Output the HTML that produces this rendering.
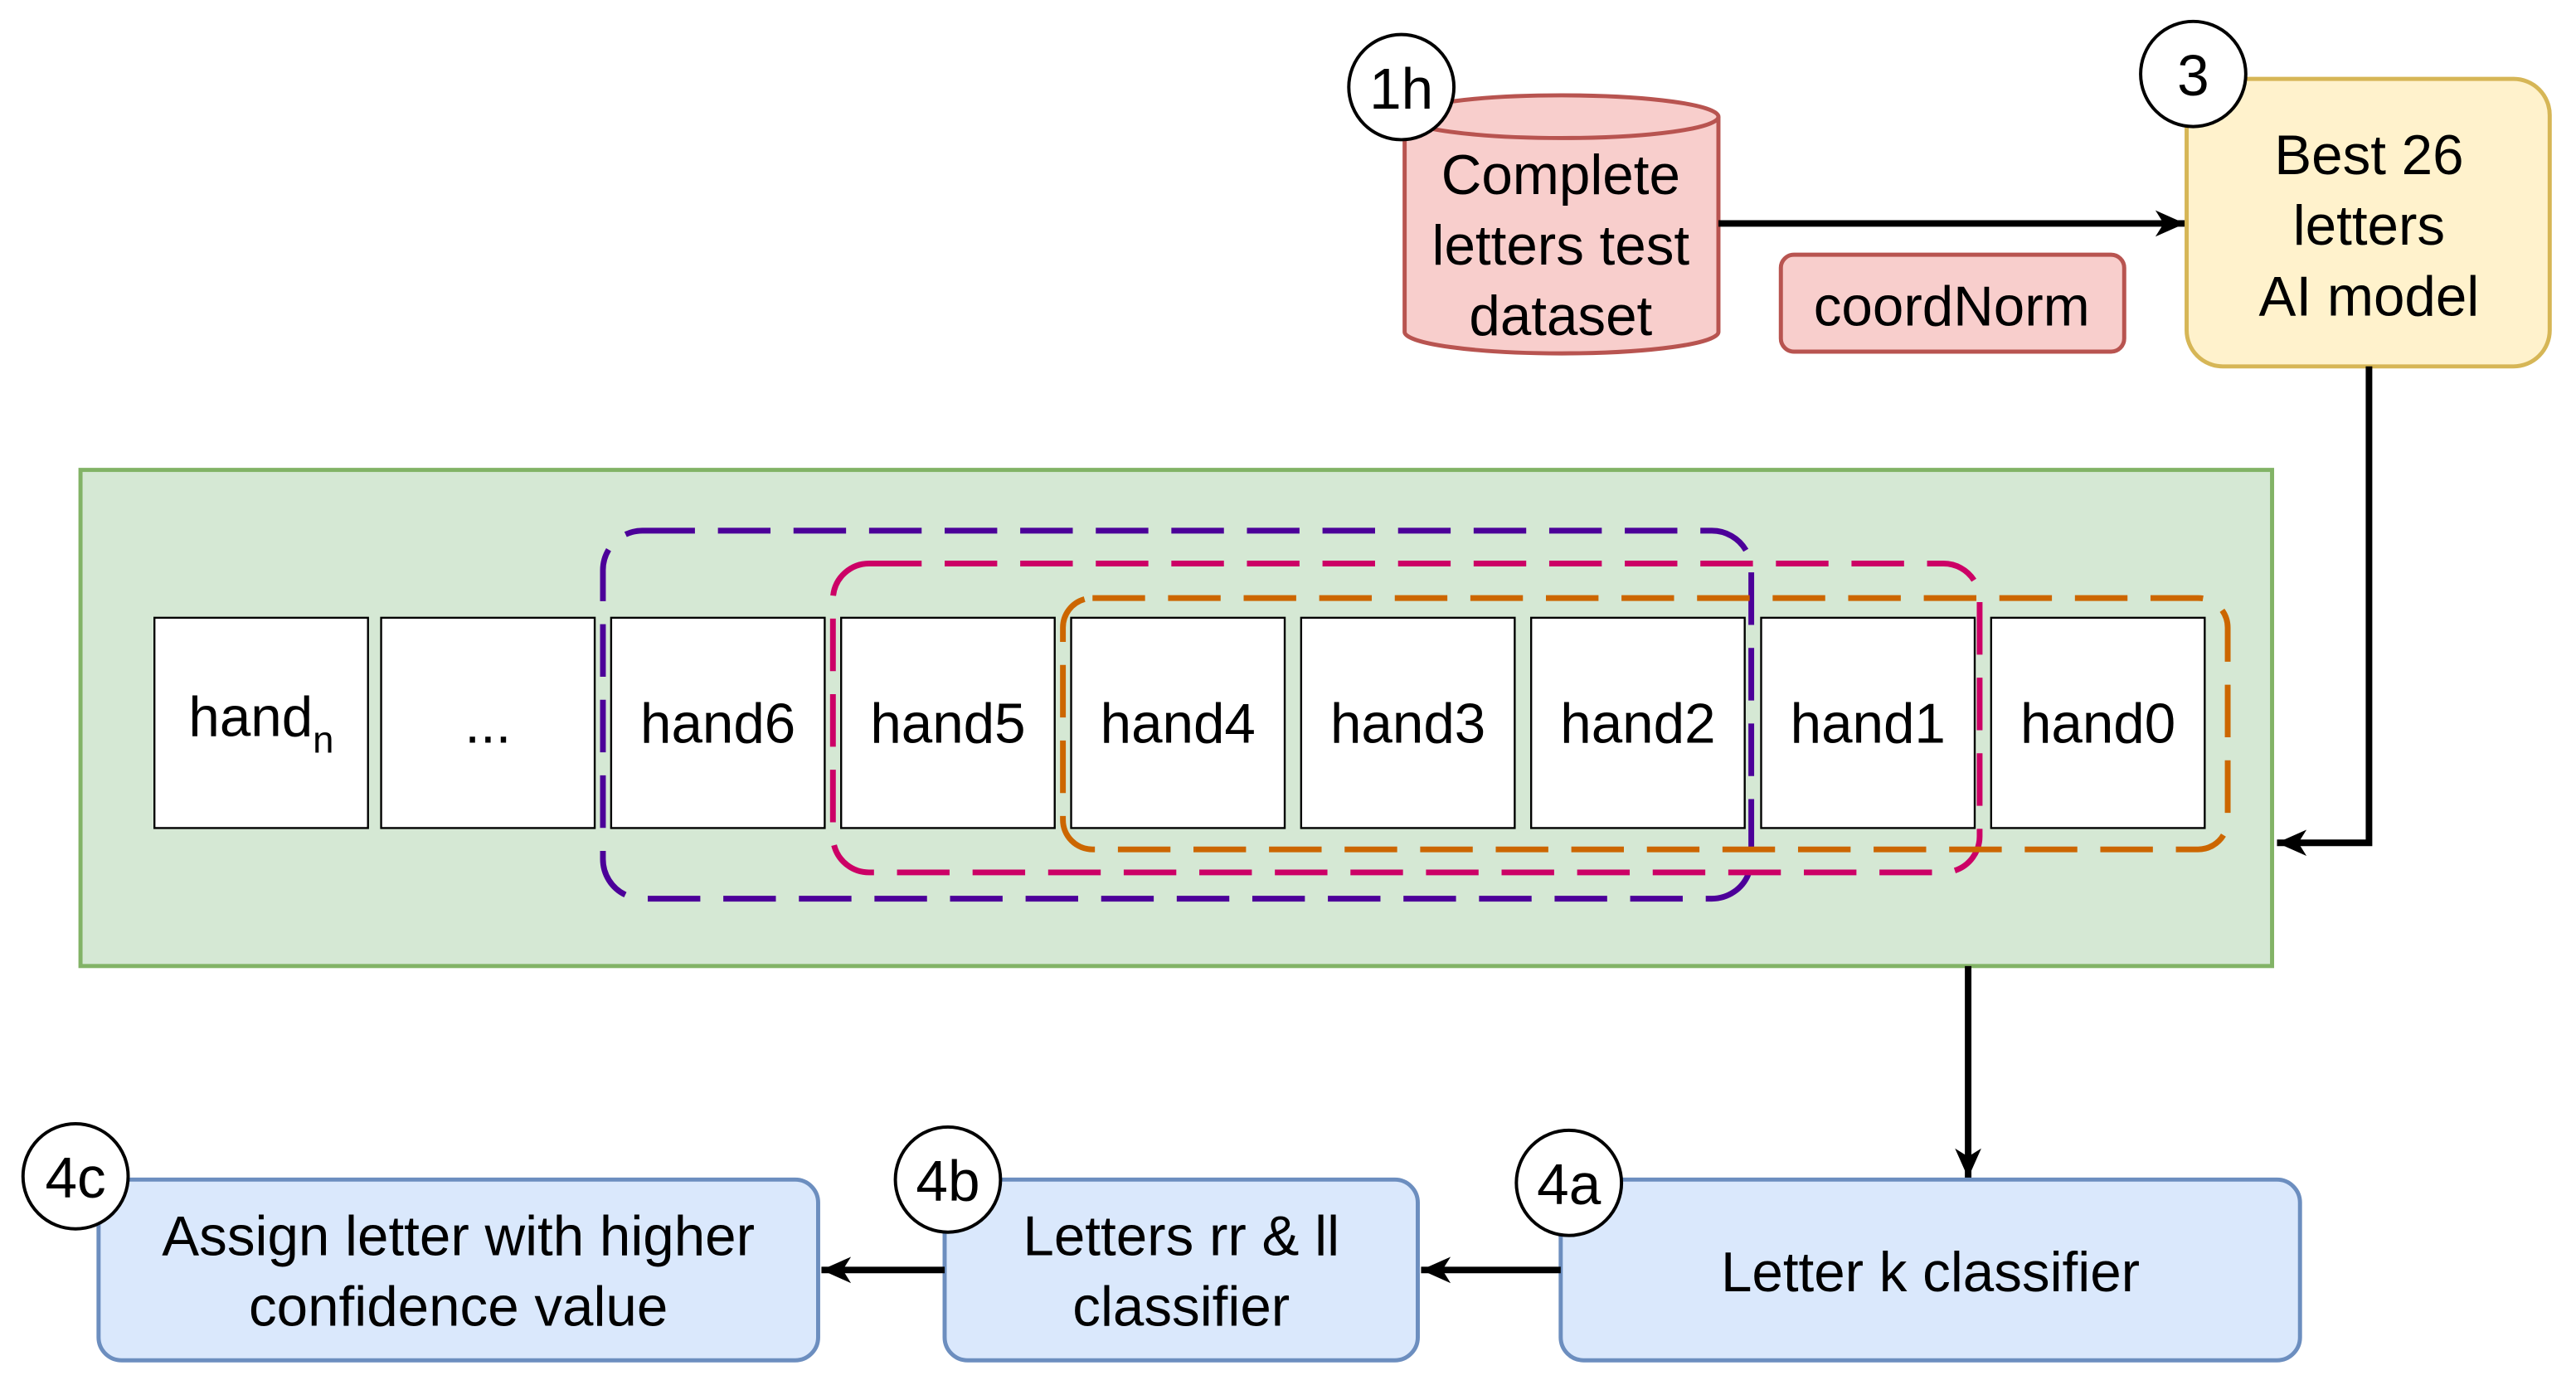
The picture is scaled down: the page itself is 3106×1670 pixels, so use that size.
<!DOCTYPE html>
<html><head><meta charset="utf-8"><style>
html,body{margin:0;padding:0;background:#fff;}
svg{display:block;}
text{font-family:"Liberation Sans",sans-serif;fill:#000;}
</style></head><body>
<svg width="3106" height="1670" viewBox="0 0 1568 843" xmlns="http://www.w3.org/2000/svg">
<defs>
<marker id="ah2" markerWidth="20" markerHeight="20" refX="18" refY="10" orient="auto" markerUnits="userSpaceOnUse">
<path d="M0,2 L18,10 L0,18 L5,10 Z" fill="#000"/>
</marker>
</defs>
<rect width="1568" height="843" fill="#fff"/>
<path d="M855,71 L855,202 A95,13 0 0 0 1046,202 L1046,71" fill="#f8cecc" stroke="#b85450" stroke-width="2.5"/>
<ellipse cx="950.5" cy="71" rx="95.5" ry="13" fill="#f8cecc" stroke="#b85450" stroke-width="2.5"/>
<text x="950" y="118" font-size="34" text-anchor="middle">Complete</text>
<text x="950" y="161" font-size="34" text-anchor="middle">letters test</text>
<text x="950" y="204" font-size="34" text-anchor="middle">dataset</text>
<circle cx="853" cy="53" r="32" fill="#fff" stroke="#000" stroke-width="2"/>
<text x="853" y="66" font-size="35" text-anchor="middle">1h</text>
<line x1="1046" y1="136" x2="1330" y2="136" stroke="#000" stroke-width="4" marker-end="url(#ah2)"/>
<rect x="1084" y="155" width="209" height="59" rx="8" fill="#f8cecc" stroke="#b85450" stroke-width="2.5"/>
<text x="1188" y="198" font-size="34" text-anchor="middle">coordNorm</text>
<rect x="1331" y="48" width="221" height="175" rx="22" fill="#fff2cc" stroke="#d6b656" stroke-width="2.5"/>
<text x="1442" y="106" font-size="34" text-anchor="middle">Best 26</text>
<text x="1442" y="149" font-size="34" text-anchor="middle">letters</text>
<text x="1442" y="192" font-size="34" text-anchor="middle">AI model</text>
<circle cx="1335" cy="45" r="32" fill="#fff" stroke="#000" stroke-width="2"/>
<text x="1335" y="58" font-size="35" text-anchor="middle">3</text>
<polyline points="1442,223 1442,513 1386,513" fill="none" stroke="#000" stroke-width="4" marker-end="url(#ah2)"/>
<rect x="49" y="286" width="1334" height="302" fill="#d5e8d4" stroke="#82b366" stroke-width="2.5"/>
<g fill="#fff" stroke="#000" stroke-width="1.2">
<rect x="94" y="376" width="130" height="128"/>
<rect x="232" y="376" width="130" height="128"/>
<rect x="372" y="376" width="130" height="128"/>
<rect x="512" y="376" width="130" height="128"/>
<rect x="652" y="376" width="130" height="128"/>
<rect x="792" y="376" width="130" height="128"/>
<rect x="932" y="376" width="130" height="128"/>
<rect x="1072" y="376" width="130" height="128"/>
<rect x="1212" y="376" width="130" height="128"/>
</g>
<g font-size="34" text-anchor="middle">
<text x="159" y="448">hand<tspan font-size="23" dy="10">n</tspan></text>
<text x="297" y="452">...</text>
<text x="437" y="452">hand6</text>
<text x="577" y="452">hand5</text>
<text x="717" y="452">hand4</text>
<text x="857" y="452">hand3</text>
<text x="997" y="452">hand2</text>
<text x="1137" y="452">hand1</text>
<text x="1277" y="452">hand0</text>
</g>
<rect x="367" y="323" width="699" height="224" rx="24" fill="none" stroke="#4c0099" stroke-width="3.5" stroke-dasharray="32,14"/>
<rect x="507" y="343" width="698" height="188" rx="22" fill="none" stroke="#cc0066" stroke-width="3.5" stroke-dasharray="32,14"/>
<rect x="647" y="364" width="709" height="153" rx="18" fill="none" stroke="#cc6600" stroke-width="3.5" stroke-dasharray="32,14"/>
<line x1="1198" y1="588" x2="1198" y2="717" stroke="#000" stroke-width="4" marker-end="url(#ah2)"/>
<rect x="950" y="718" width="450" height="110" rx="14" fill="#dae8fc" stroke="#6c8ebf" stroke-width="2.5"/>
<text x="1175" y="786" font-size="34" text-anchor="middle">Letter k classifier</text>
<rect x="575" y="718" width="288" height="110" rx="14" fill="#dae8fc" stroke="#6c8ebf" stroke-width="2.5"/>
<text x="719" y="764" font-size="34" text-anchor="middle">Letters rr &amp; ll</text>
<text x="719" y="807" font-size="34" text-anchor="middle">classifier</text>
<rect x="60" y="718" width="438" height="110" rx="14" fill="#dae8fc" stroke="#6c8ebf" stroke-width="2.5"/>
<text x="279" y="764" font-size="34" text-anchor="middle">Assign letter with higher</text>
<text x="279" y="807" font-size="34" text-anchor="middle">confidence value</text>
<line x1="950" y1="773" x2="865" y2="773" stroke="#000" stroke-width="4" marker-end="url(#ah2)"/>
<line x1="575" y1="773" x2="500" y2="773" stroke="#000" stroke-width="4" marker-end="url(#ah2)"/>
<circle cx="955" cy="720" r="32" fill="#fff" stroke="#000" stroke-width="2"/>
<text x="955" y="733" font-size="35" text-anchor="middle">4a</text>
<circle cx="577" cy="718" r="32" fill="#fff" stroke="#000" stroke-width="2"/>
<text x="577" y="731" font-size="35" text-anchor="middle">4b</text>
<circle cx="46" cy="716" r="32" fill="#fff" stroke="#000" stroke-width="2"/>
<text x="46" y="729" font-size="35" text-anchor="middle">4c</text>
</svg>
</body></html>
